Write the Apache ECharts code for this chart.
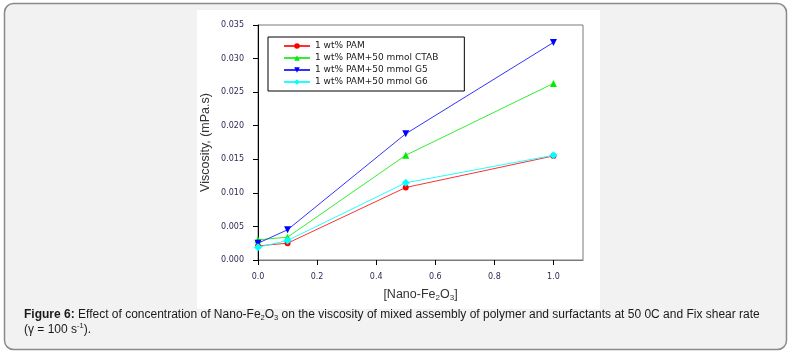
<!DOCTYPE html>
<html>
<head>
<meta charset="utf-8">
<script src="https://cdn.jsdelivr.net/npm/echarts@6/dist/echarts.min.js"></script>
<style>
html,body{margin:0;padding:0;background:#ffffff;}
#chart{width:792px;height:355px;}
</style>
</head>
<body>
<div id="chart"></div>
<script>
// ---- data ----
var xValues = [0.0, 0.1, 0.5, 1.0];
var seriesNames = ['1 wt% PAM', '1 wt% PAM+50 mmol CTAB', '1 wt% PAM+50 mmol G5', '1 wt% PAM+50 mmol G6'];
var pam  = [0.0021, 0.0025, 0.0108, 0.0155];
var ctab = [0.0030, 0.0034, 0.0156, 0.0263];
var g5   = [0.0025, 0.0045, 0.0188, 0.0324];
var g6   = [0.0019, 0.0029, 0.0115, 0.0156];
var xTickValues = [0.0, 0.2, 0.4, 0.6, 0.8, 1.0];
var yTickValues = [0.000, 0.005, 0.010, 0.015, 0.020, 0.025, 0.030, 0.035];

function pairs(ys){ return xValues.map(function(x,i){ return [x, ys[i]]; }); }

var chart = echarts.init(document.getElementById('chart'), null, {renderer:'canvas'});

var colors = ['#ff0000', '#00ee00', '#0000ff', '#00ffff'];
var lineColors = ['#ff3030', '#33ee33', '#3333ff', '#22ffff'];
var symbols = ['circle', 'triangle', 'path://M0,0L10,0L5,9Z', 'diamond'];
var symbolSizes = [6, 7, 7, 8];
var allData = [pam, ctab, g5, g6];

var series = allData.map(function(d, i){
  return {
    name: seriesNames[i],
    type: 'line',
    data: pairs(d),
    symbol: symbols[i],
    symbolSize: symbolSizes[i],
    showAllSymbol: true,
    lineStyle: {color: lineColors[i], width: 1},
    itemStyle: {color: colors[i]},
    animation: false,
    z: 3 + (i === 3 ? 1 : 0)
  };
});

var tickFont = {fontFamily: 'DejaVu Sans', fontSize: 8, color: '#2b2b55'};
var capFont = 'Liberation Sans';

var option = {
  backgroundColor: '#ffffff',
  animation: false,
  graphic: [
    {type:'rect', shape:{x:4.5, y:3.5, width:782, height:346, r:9}, style:{fill:'#f2f2f2', stroke:'#8a8a8a', lineWidth:1.5}, z:-10},
    {type:'rect', shape:{x:197, y:10, width:403, height:299}, style:{fill:'#ffffff'}, z:-9},
    {type:'text', left:24, top:307, z:10, style:{
      text:'{b|Figure 6:} Effect of concentration of Nano-Fe{sub|2}O{sub|3} on the viscosity of mixed assembly of polymer and surfactants at 50 0C and Fix shear rate',
      fontFamily:capFont, fontSize:12, fill:'#1a1a1a', lineHeight:15,
      rich:{
        b:{fontWeight:'bold', fontFamily:capFont, fontSize:12, fill:'#1a1a1a', lineHeight:15},
        sub:{fontFamily:capFont, fontSize:7.5, fill:'#1a1a1a', verticalAlign:'bottom', lineHeight:8}
      }
    }},
    {type:'text', left:24, top:322, z:10, style:{
      text:'(γ = 100 s{sup|-1}).',
      fontFamily:capFont, fontSize:12, fill:'#1a1a1a', lineHeight:15,
      rich:{
        sup:{fontFamily:capFont, fontSize:7.5, fill:'#1a1a1a', verticalAlign:'top', lineHeight:8}
      }
    }}
  ],
  legend: {
    orient: 'vertical',
    left: 268, top: 37,
    padding: [4, 26, 4, 15],
    itemWidth: 26, itemHeight: 7, itemGap: 2,
    borderColor: '#000000', borderWidth: 1,
    backgroundColor: '#ffffff',
    textStyle: {fontFamily: 'DejaVu Sans', fontSize: 9, color: '#1a1a1a', lineHeight: 10},
    data: seriesNames
  },
  grid: {left: 258, top: 25, width: 325, height: 235, show: true, borderColor: '#7a7a7a', borderWidth: 1, backgroundColor:'transparent'},
  xAxis: {
    type: 'value', min: 0, max: 1.1,
    name: '[Nano-Fe{sub|2}O{sub|3}]',
    nameLocation: 'middle', nameGap: 27,
    nameTextStyle: {fontFamily:'Liberation Sans', fontSize:12.5, color:'#333333', lineHeight:15,
      rich:{sub:{fontFamily:'Liberation Sans', fontSize:8, color:'#333333', verticalAlign:'bottom', lineHeight:9}}},
    axisLine: {show: true, lineStyle: {color: '#7a7a7a', width: 1}},
    axisTick: {show: true, length: 5, lineStyle: {color: '#000000'}, customValues: xTickValues},
    axisLabel: Object.assign({margin: 13, customValues: xTickValues, formatter: function(v){ return v.toFixed(1); }}, tickFont),
    splitLine: {show: false}
  },
  yAxis: {
    type: 'value', min: 0, max: 0.035, interval: 0.005,
    name: 'Viscosity, (mPa.s)',
    nameLocation: 'middle', nameGap: 46,
    nameTextStyle: {fontFamily:'Liberation Sans', fontSize:12.5, color:'#333333'},
    axisLine: {show: true, lineStyle: {color: '#000000', width: 1}},
    axisTick: {show: true, length: 5, lineStyle: {color: '#000000'}, customValues: yTickValues},
    axisLabel: Object.assign({margin: 14, customValues: yTickValues, formatter: function(v){ return v.toFixed(3); }}, tickFont),
    splitLine: {show: false}
  },
  series: series
};
chart.setOption(option);
</script>
</body>
</html>
